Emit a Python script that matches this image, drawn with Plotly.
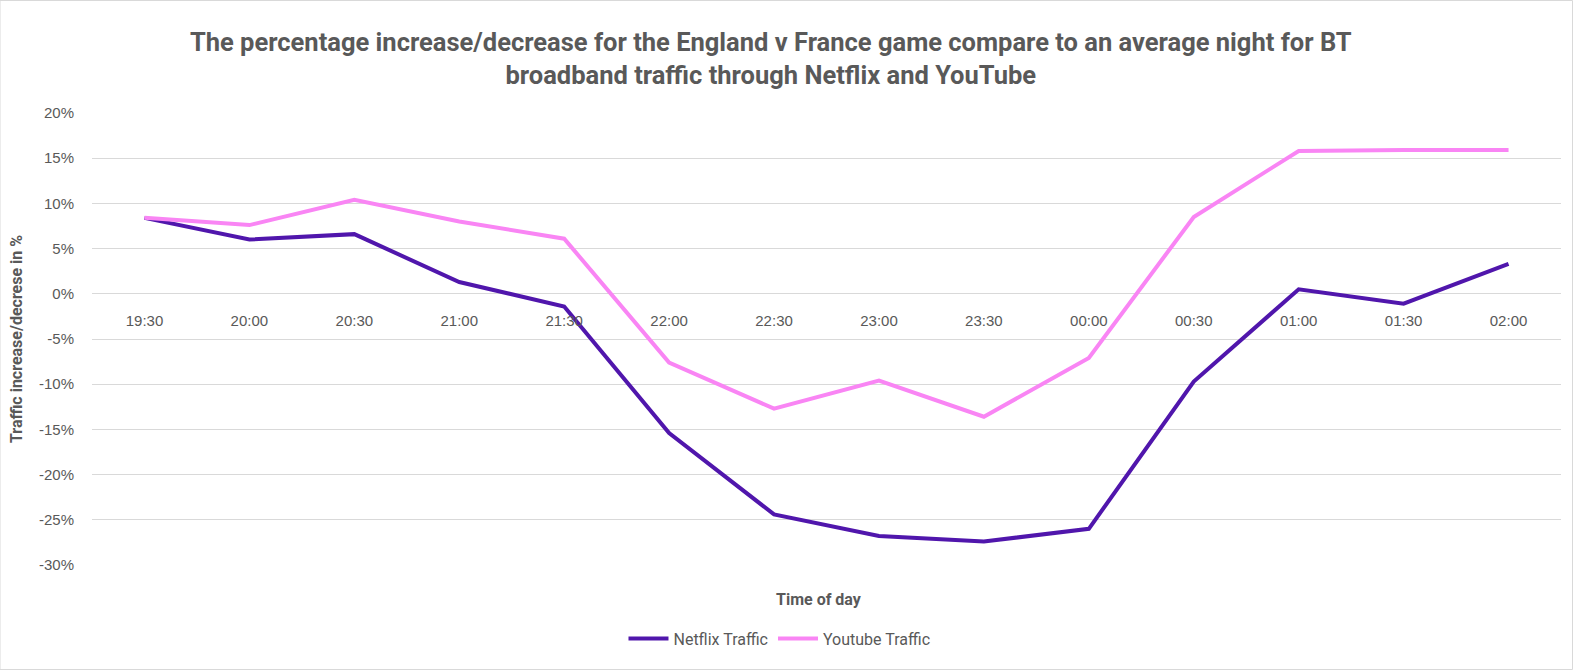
import plotly.graph_objects as go

times = ["19:30", "20:00", "20:30", "21:00", "21:30", "22:00", "22:30",
         "23:00", "23:30", "00:00", "00:30", "01:00", "01:30", "02:00"]
netflix = [8.4, 6.0, 6.6, 1.3, -1.4, -15.4, -24.4, -26.8, -27.4, -26.0, -9.7, 0.5, -1.1, 3.3]
youtube = [8.4, 7.6, 10.4, 8.0, 6.1, -7.6, -12.7, -9.6, -13.6, -7.1, 8.5, 15.8, 15.9, 15.9]
y_ticks = [20, 15, 10, 5, 0, -5, -10, -15, -20, -25, -30]

GREY = "#595959"
fig = go.Figure()
fig.add_trace(go.Scatter(x=times, y=netflix, mode="lines", name="Netflix Traffic",
                         line=dict(color="#5016AC", width=4)))
fig.add_trace(go.Scatter(x=times, y=youtube, mode="lines", name="Youtube Traffic",
                         line=dict(color="#F985F4", width=4)))

fig.update_layout(
    width=1573, height=670,
    paper_bgcolor="white", plot_bgcolor="white",
    margin=dict(l=92, r=12, t=113, b=105),
    title=dict(text="The percentage increase/decrease for the England v France game compare to an average night for BT<br>broadband traffic through Netflix and YouTube",
               x=0.49, xanchor="center", y=0.924, yanchor="middle",
               font=dict(family="Roboto", size=25.5, color=GREY, weight="bold")),
    font=dict(family="Liberation Sans", size=15, color=GREY),
    showlegend=True,
    legend=dict(orientation="h", x=0.468, xanchor="center", y=-0.163, yanchor="middle",
                font=dict(family="Roboto", size=16, color=GREY), itemwidth=40),
    xaxis=dict(type="category", range=[-0.5, 13.5], anchor="free", position=0.6, showgrid=False,
               showline=False, zeroline=False, ticks="", ticklabelstandoff=16,
               tickfont=dict(size=15, color=GREY)),
    yaxis=dict(range=[-30, 20], tickvals=y_ticks, ticktext=[f"{v}%" for v in y_ticks],
               showgrid=True, gridcolor="#d9d9d9", gridwidth=1, zeroline=False,
               showline=False, ticks="", ticklabelstandoff=17, tickfont=dict(size=15, color=GREY),
               title=dict(text="Traffic increase/decrese in %", standoff=12,
                          font=dict(family="Roboto", size=16, color=GREY, weight="bold"))),
)
fig.add_annotation(text="<b>Time of day</b>", xref="paper", yref="paper",
                   x=(819 - 92) / 1469, y=(565 - 599) / 452, xanchor="center", yanchor="middle",
                   showarrow=False, font=dict(family="Roboto", size=16, color=GREY))
fig.add_shape(type="rect", xref="paper", yref="paper", x0=-92/1469, x1=1+11.5/1469,
              y0=-104.5/452, y1=1+112.5/452, line=dict(color="#d9d9d9", width=1))
fig.write_html("out.html")
